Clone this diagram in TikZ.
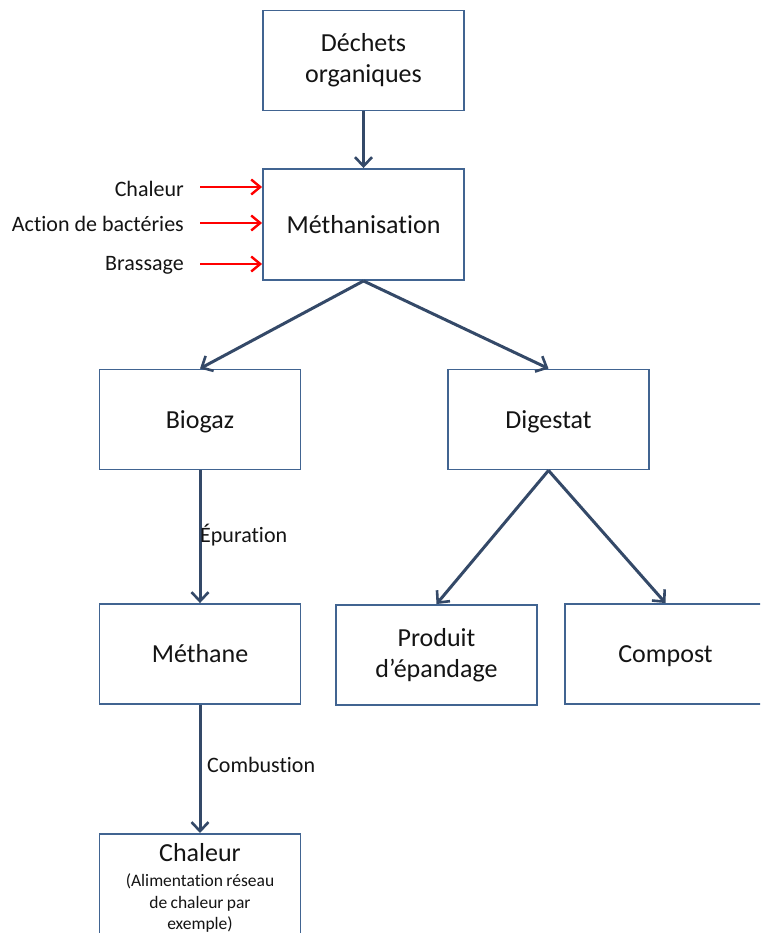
\documentclass[tikz,border=0pt]{standalone}
\usepackage{fontspec}
\setmainfont[Ligatures=NoCommon]{Carlito}
\usetikzlibrary{arrows.meta}
\definecolor{boxc}{RGB}{65,100,145}
\definecolor{arrc}{RGB}{52,73,104}
\definecolor{txt}{RGB}{20,20,20}
\begin{document}
\begin{tikzpicture}[x=1pt,y=-1pt,
  box/.style={draw=boxc,line width=1.9pt,fill=white,minimum width=201pt,minimum height=100pt,
    inner sep=0pt,align=center,text=txt,font=\fontsize{26}{31}\selectfont},
  one/.style={text height=19pt,text depth=2pt},
  flow/.style={draw=arrc,line width=3pt,-{Straight Barb[length=9pt,width=17pt,line width=2.6pt]}},
  redarr/.style={draw=red,line width=2.6pt,-{Straight Barb[length=9pt,width=15pt,line width=2.4pt]}},
  side/.style={text=txt,inner sep=0pt,font=\fontsize{22}{26}\selectfont},
  lab/.style={text=txt,inner sep=0pt,font=\fontsize{22}{26}\selectfont}]
\useasboundingbox (0,0) rectangle (760,933);
\clip (0,0) rectangle (760,933);
\fill[white] (0,0) rectangle (760,933);

\node[box] (dechets) at (363.5,60.5) {Déchets\\organiques};
\node[box,minimum height=111pt] (meth) at (363.5,224.5) {\raisebox{-2pt}{Méthanisation}};
\node[box,one] (biogaz) at (200,419.5) {Biogaz};
\node[box,one] (digestat) at (548.5,419.5) {Digestat};
\node[box,one] (methane) at (200,654) {Méthane};
\node[box] (produit) at (436.5,655) {Produit\\d’épandage};
\node[box,one] (compost) at (665.5,654) {Compost};
\node[box,anchor=north,minimum height=140pt] (chal) at (200,833) {};
\node[anchor=north,inner sep=0pt,text width=200pt,align=center,text=txt] (chaltxt) at (200,843)
  {{\fontsize{26}{31}\selectfont Chaleur\par}\vspace{4pt}
   {\fontsize{17.5}{21.5}\selectfont (Alimentation réseau\par de chaleur par\par exemple)\par}};

\draw[flow] (dechets.south) -- (meth.north);
\draw[flow] (meth.south) -- (biogaz.north);
\draw[flow] (meth.south) -- (digestat.north);
\draw[flow] (biogaz.south) -- (methane.north);
\draw[flow] (digestat.south) -- (produit.north);
\draw[flow] (digestat.south) -- (compost.north);
\draw[flow] (methane.south) -- (chal.north);

\node[lab,anchor=west] (epur) at (200,535) {Épuration};
\node[lab,anchor=west] (combu) at (207,765) {Combustion};

\node[side,anchor=east] (l1) at (184,189) {Chaleur};
\node[side,anchor=east] (l2) at (184,224) {Action de bactéries};
\node[side,anchor=east] (l3) at (184,265) {Brassage};
\coordinate (r1) at (200,187);
\coordinate (r2) at (200,223);
\coordinate (r3) at (200,264);
\draw[redarr] (r1) -- (r1 -| meth.west);
\draw[redarr] (r2) -- (r2 -| meth.west);
\draw[redarr] (r3) -- (r3 -| meth.west);
\end{tikzpicture}
\end{document}
